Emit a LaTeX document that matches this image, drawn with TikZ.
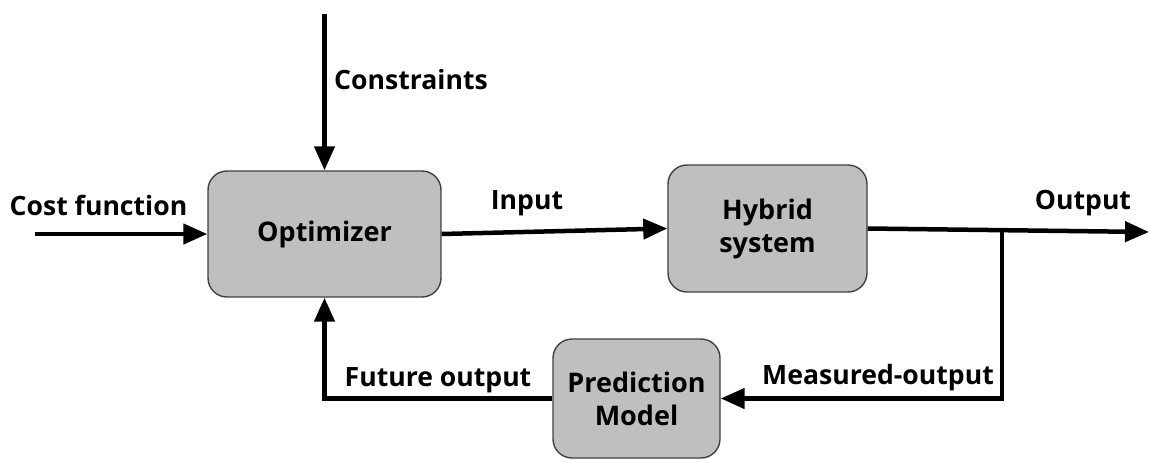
\documentclass[tikz,border=0pt]{standalone}
\usepackage{fontspec}
\setmainfont{Open Sans}[BoldFont={Open Sans Bold}]
\usetikzlibrary{arrows.meta}
\begin{document}
\begin{tikzpicture}[x=1pt,y=-1pt,
  blk/.style={draw=black!75,line width=1.4pt,fill=black!25,rounded corners=19pt,
    align=center,font=\fontsize{27}{33}\selectfont\bfseries,inner sep=0pt},
  conn/.style={line width=4.5pt},
  arr/.style={conn,-{Triangle[length=24pt,width=20pt]}},
  lbl/.style={font=\fontsize{26.6}{32}\selectfont\bfseries,inner sep=0pt}]
\useasboundingbox (0,0) rectangle (1149,461);
\node[blk,minimum width=233pt,minimum height=126pt] (opt) at (324.5,234) {Optimizer};
\node[blk,minimum width=199pt,minimum height=127pt] (hyb) at (767.5,228.5) {Hybrid\\system};
\node[blk,minimum width=167pt,minimum height=119pt] (pred) at (636.5,398.5) {Prediction\\Model};
\coordinate (ctop) at (324.5,14);
\coordinate (cin) at (35,234);
\coordinate (oend) at (1149,232);
\coordinate (j) at (1002,231);
\draw[arr] (ctop) -- (opt.north);
\draw[arr] (cin) -- (opt.west);
\draw[arr] (opt.east) -- (hyb.west);
\draw[arr] (hyb.east) -- (oend);
\draw[arr] (j) |- (pred.east);
\draw[arr] (pred.west) -| (opt.south);
\node[lbl,anchor=west] (lc) at (334,80) {Constraints};
\node[lbl] (lcost) at (98.5,205) {Cost function};
\node[lbl] (lin) at (527,203) {Input};
\node[lbl] (lout) at (1083,203) {Output};
\node[lbl] (lfut) at (438,380) {Future output};
\node[lbl,anchor=east] (lmeas) at (994,378) {Measured-output};
\end{tikzpicture}
\end{document}
